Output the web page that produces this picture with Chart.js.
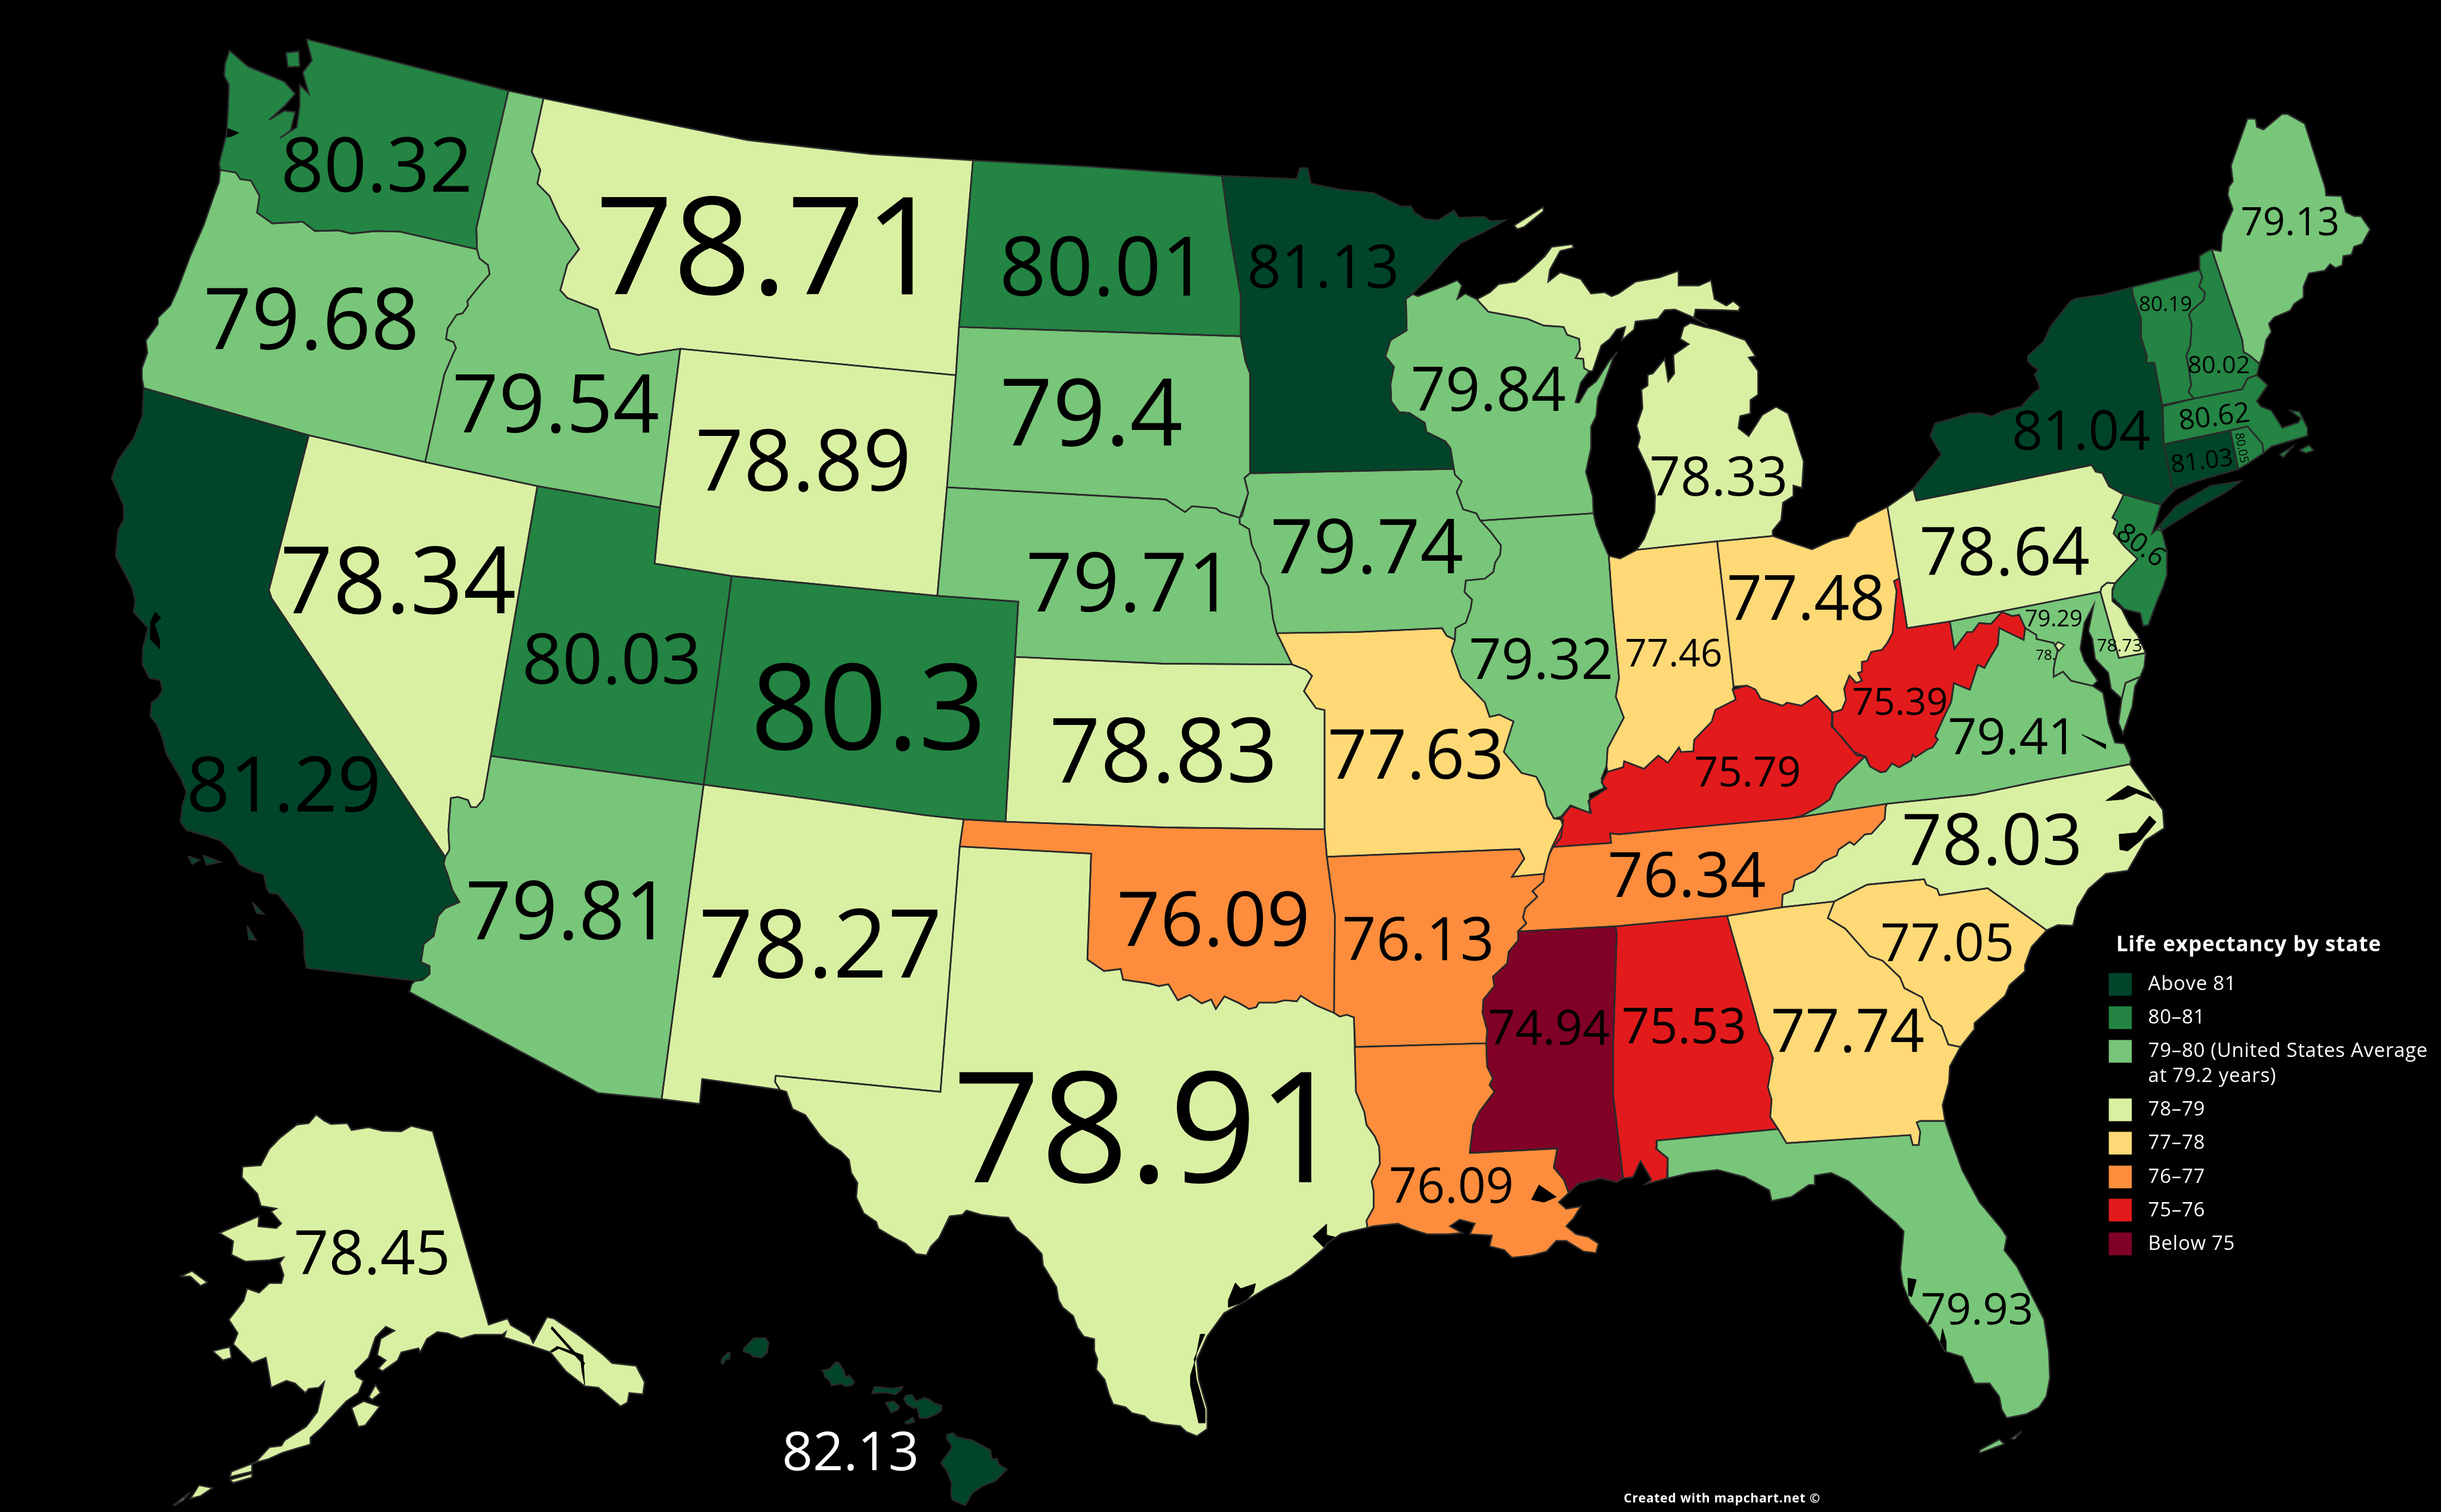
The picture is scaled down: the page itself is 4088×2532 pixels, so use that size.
<!DOCTYPE html>
<html>
<head>
<meta charset="utf-8">
<title>Life expectancy by state</title>
<script src="https://cdn.jsdelivr.net/npm/chart.js@4/dist/chart.umd.min.js"></script>
<style>
  html, body { margin: 0; padding: 0; background: #000; }
  canvas { display: block; }
</style>
</head>
<body>
<canvas id="myChart" width="4088" height="2532"></canvas>
<script>
// Values
const stateCodes = ["WA","OR","CA","NV","ID","MT","WY","UT","AZ","NM","CO","ND","SD","NE","KS","OK","TX","MN","IA","MO","AR","LA","WI","IL","MS","AL","TN","KY","IN","MI","OH","WV","VA","NC","SC","GA","FL","PA","NY","NJ","DE","MD","DC","VT","NH","ME","MA","CT","RI","AK","HI"];
const valueLabels = ["80.32","79.68","81.29","78.34","79.54","78.71","78.89","80.03","79.81","78.27","80.3","80.01","79.4","79.71","78.83","76.09","78.91","81.13","79.74","77.63","76.13","76.09","79.84","79.32","74.94","75.53","76.34","75.79","77.46","78.33","77.48","75.39","79.41","78.03","77.05","77.74","79.93","78.64","81.04","80.6","78.73","79.29","78.","80.19","80.02","79.13","80.62","81.03","80.05","78.45","82.13"];

// Legend bins, top to bottom
const binFloors = [81, 80, 79, 78, 77, 76, 75, 0];
const binColors = ["#004529", "#238443", "#78c679", "#d9f0a3", "#fed976", "#fd8d3c", "#e31a1c", "#800026"];
const legendTitle = "Life expectancy by state";
const legendLabels = [["Above 81"], ["80–81"], ["79–80 (United States Average", "at 79.2 years)"], ["78–79"], ["77–78"], ["76–77"], ["75–76"], ["Below 75"]];
const creditText = "Created with mapchart.net ©";

// State outlines, map units (1568 x 971.2)
const outlineWA = [[[196.8,25.1],[326.6,58.3],[306,146.4],[306.4,160.1],[257,148.8],[241.5,148.4],[225.8,150],[217,148],[202.3,148.4],[194.5,142.5],[174.9,143.5],[165.1,136.6],[166.7,125.9],[161.2,116],[154.4,115.1],[151.4,110.8],[141.6,109.2],[140.7,105.3],[145.6,85.7],[146.5,70],[147.1,54.4],[144,48.6],[144.6,40.7],[147.5,32.5],[159.3,42.7],[182.7,52.5],[189.6,60.3],[182.7,68.1],[173,77],[182.7,71.1],[189.6,72],[186.7,83.8],[179.8,88.7],[190.6,81.8],[192.5,68.1],[192.5,54.4],[198.4,60.3],[194.5,46.6],[200.4,38.8]],
  [[183.7,33.9],[192,33],[192.5,42.7],[185,43]]];
const outlineOR = [[[306.4,160.1],[257,148.8],[241.5,148.4],[225.8,150],[217,148],[202.3,148.4],[194.5,142.5],[174.9,143.5],[165.1,136.6],[166.7,125.9],[161.2,116],[154.4,115.1],[151.4,110.8],[141.6,109.2],[141.3,110.2],[140.7,117],[137.7,124.9],[130.9,144.5],[122,165],[114.3,185.5],[109.4,196.3],[101.5,204.1],[101.5,208],[93.7,218.8],[94.7,226.6],[91.2,236.4],[91.2,243.3],[92.4,249.3],[198.4,279.6],[273.1,296.8],[285.5,240.3],[291.4,226.6],[292.9,223.7],[291.4,219.8],[286.5,217.8],[287.5,211],[293.3,202.2],[297.2,201.2],[300.6,196.3],[300.2,193.4],[308,183.6],[314.5,176.1],[313.5,170.3],[308,166]]];
const outlineCA = [[[92.4,249.3],[91.4,267.3],[85.9,281.4],[75.9,295.5],[71.8,307],[79.5,325.1],[79.5,334],[75.9,340.5],[74.4,357.2],[85,377.8],[86.9,385.5],[85.9,393.2],[95.1,403.4],[91.8,416.3],[91.4,426.6],[96,435.6],[103,436.8],[104.3,443.3],[101.5,448.4],[97.5,451],[96.6,460],[100.6,465],[104.3,474],[107,484.4],[116.2,499.8],[119.9,508.8],[117.1,517.8],[115.9,528],[119.9,533.2],[132.7,537],[141.9,540.1],[149.3,547.3],[153.8,555],[162.1,559.6],[169.4,561.4],[171.3,570.4],[173.1,573.5],[178.6,574.3],[190.5,589.7],[195.1,598.7],[195.5,614.1],[197,621.8],[266.7,630],[271.3,629.5],[275.9,625.7],[275.9,620.5],[270.4,618],[272.2,606.4],[278.6,601.2],[281.4,588.4],[286,583.3],[295.1,579.4],[290.5,571.7],[287.8,562.7],[285,555],[286,550.4],[174.4,384.2],[172.7,379],[198.4,279.6]],
  [[120.8,549.9],[128.1,552.4],[123.6,555]],[[130.5,549.4],[141.5,553.7],[132.7,555.5]],[[162.1,579.4],[169.4,587.1],[164.9,586.4]],[[158.8,594.8],[164.3,603.8],[159.9,603.3]]];
const outlineNV = [[[198.4,279.6],[273.1,296.8],[345.2,312.2],[315.3,485.6],[310.4,513.4],[306.1,518.5],[302.5,518.5],[300.6,513.9],[294.2,511.9],[289.6,512.6],[288,533.2],[288.7,546],[286,550.4],[174.4,384.2],[172.7,379]]];
const outlineID = [[[326.6,58.3],[349.1,63.2],[341.6,97.5],[347.1,109.2],[345.2,118],[353,125.9],[359.9,141.5],[364.4,147.4],[372,160],[364.4,170],[359.9,186.5],[364.4,191.4],[384,199],[392,224],[410,228],[437,224],[424,326],[345.2,312.2],[273.1,296.8],[285.5,240.3],[291.4,226.6],[292.9,223.7],[291.4,219.8],[286.5,217.8],[287.5,211],[293.3,202.2],[297.2,201.2],[300.6,196.3],[300.2,193.4],[308,183.6],[314.5,176.1],[313.5,170.3],[308,166],[306.4,160.1],[306,146.4]]];
const outlineMT = [[[349.1,63.2],[480,90],[560,99],[625,103],[616,210],[614,241],[437,224],[410,228],[392,224],[384,199],[364.4,191.4],[359.9,186.5],[364.4,170],[372,160],[364.4,147.4],[359.9,141.5],[353,125.9],[345.2,118],[347.1,109.2],[341.6,97.5]]];
const outlineWY = [[[437,224],[614,241],[608.3,313],[602.1,382.7],[470,370],[420.5,362],[424,326]]];
const outlineUT = [[[345.2,312.2],[424,326],[420.5,362],[470,370],[452,504],[315.3,485.6]]];
const outlineAZ = [[[315.3,485.6],[452,504],[425,706],[384,702],[263,637.2],[264.5,632],[266.7,630],[271.3,629.5],[275.9,625.7],[275.9,620.5],[270.4,618],[272.2,606.4],[278.6,601.2],[281.4,588.4],[286,583.3],[295.1,579.4],[290.5,571.7],[287.8,562.7],[285,555],[286,550.4],[288.7,546],[288,533.2],[289.6,512.6],[294.2,511.9],[300.6,513.9],[302.5,518.5],[306.1,518.5],[310.4,513.4]]];
const outlineNM = [[[452,504],[520,513],[594.5,523.7],[619,526.3],[616.5,543.7],[604.1,701.3],[498.3,691],[497.8,694.8],[501,700],[451,693],[449.5,709],[425,706]]];
const outlineCO = [[[470,370],[602.1,382.7],[654.1,386.4],[652,421.9],[645.9,527.8],[619,526.3],[594.5,523.7],[520,513],[452,504]]];
const outlineND = [[[625,103],[700,107],[785,113],[790,150],[797,190],[797,216],[616,210]]];
const outlineSD = [[[616,210],[797,216],[800,232],[803,240],[803,304],[799.4,306.9],[801.8,316.7],[797.9,331.4],[796.3,332.6],[784.1,328.9],[781,326.5],[765.7,325.2],[761.2,328.9],[748.9,320.8],[608.3,313],[614,241]]];
const outlineNE = [[[608.3,313],[748.9,320.8],[761.2,328.9],[765.7,325.2],[781,326.5],[784.1,328.9],[796.3,332.6],[796.3,336.3],[802.4,339.9],[804,349.7],[809.5,361.9],[810.1,368],[814.7,376.6],[816.2,385.2],[817.7,397.4],[820.2,407.2],[821.7,409.6],[830,426.8],[747.4,426.3],[652,421.9],[654.1,386.4],[602.1,382.7]]];
const outlineKS = [[[652,421.9],[747.4,426.3],[830,426.8],[839.1,430.4],[842.8,434.1],[837.6,443.9],[845.3,454.9],[850.8,456.1],[850.8,532.7],[747.4,531.5],[645.9,527.8]]];
const outlineOK = [[[619,526.3],[645.9,527.8],[747.4,531.5],[850.8,532.7],[852.3,550.3],[857.5,588.2],[856.9,650.6],[845.3,645.7],[835.5,639.6],[833,643.2],[825.4,642.5],[819.3,644],[808.6,644],[807,646.9],[802.4,648.1],[796.3,644.5],[786.5,640],[781,648.1],[778,642],[771.9,644.5],[764.2,639.1],[756.6,642.5],[750.5,632.2],[744.3,633.4],[738.2,631.7],[721.4,629.3],[719.9,622.4],[709.2,623.7],[698.5,616.3],[700.9,548.3],[616.5,543.7]]];
const outlineTX = [[[616.5,543.7],[700.9,548.3],[698.5,616.3],[709.2,623.7],[719.9,622.4],[721.4,629.3],[738.2,631.7],[744.3,633.4],[750.5,632.2],[756.6,642.5],[764.2,639.1],[771.9,644.5],[778,642],[781,648.1],[786.5,640],[796.3,644.5],[802.4,648.1],[807,646.9],[808.6,644],[819.3,644],[825.4,642.5],[833,643.2],[835.5,639.6],[845.3,645.7],[856.9,650.6],[860.6,653],[865.1,651.8],[869.7,653.5],[870.2,672],[871,701.3],[876.4,714.3],[877.8,722.6],[883.2,730],[885.9,736.6],[886.4,747.7],[881,758.9],[882.4,765.4],[882.4,775.6],[877.8,784],[878.3,788.6],[861.6,792.4],[852.2,798.9],[850.9,801.6],[840.1,811],[829.3,819.3],[813.2,827.7],[801.1,835.1],[786.3,843.5],[775.5,858.4],[768.8,873.2],[770.1,886.2],[775.5,904.8],[775.5,917.8],[768.8,922.5],[762,919.7],[758,916],[748.6,915],[739.2,913.2],[735.1,909.5],[727.1,907.6],[723,903.9],[715,902],[712.3,895.5],[709.6,886.2],[704.2,879.7],[705,873.2],[702.9,867.6],[702.9,860.2],[696.1,858.4],[692.1,852.8],[689.4,845.3],[682.7,839.8],[680,835.1],[678.6,826.7],[674.6,820.2],[670,812.8],[669.2,805.4],[659.8,795.1],[653.1,790.5],[647.7,782.1],[642.3,781.8],[630.2,780.3],[620.8,777.5],[618.1,780.3],[610,781.2],[603.3,795.1],[597.9,800.7],[595.2,806.3],[588.5,805.4],[581.8,798.9],[574.2,795.1],[564.3,789.2],[562.9,784.9],[554.8,779.3],[550,769.1],[550.8,759.8],[546.8,753.3],[545.4,745],[540,739.4],[532,734.7],[526.6,729.1],[521.2,721.7],[517.2,716.1],[509.1,712.4],[505.1,701.3],[501,700],[497.8,694.8],[498.3,691],[604.1,701.3]]];
const outlineMN = [[[785,113],[833,115],[835,108],[840,108],[842,118],[862,122],[882.2,123.9],[899.8,132.6],[906.4,132.5],[908.6,136.4],[915.2,140.7],[924,141.5],[933.9,135.2],[937.2,139.8],[953.8,139.3],[957.1,142],[967,141.5],[952.7,149.2],[938.4,156],[927.3,167.2],[918.5,177.5],[908.2,187.7],[903.1,192],[903.6,212.2],[893.2,218.5],[889.9,228.8],[895.4,235.6],[893.2,246.7],[893.7,257.9],[898.7,264.7],[905.3,265.2],[915.2,271.6],[916.3,277.5],[928.4,283.5],[931.7,287.8],[933.9,301.2],[803,304],[803,240],[800,232],[797,216],[797,190],[790,150]]];
const outlineIA = [[[803,304],[933.9,301.2],[934.6,305],[939,309.2],[935.7,316],[939.9,327.2],[948.3,329.7],[950.9,334.4],[957,340.9],[964.1,350.3],[963.7,356.2],[960.4,361.4],[959.3,367.4],[953.8,371.7],[941.6,372.9],[940.7,380.3],[945.6,385.2],[944.6,391.3],[941.6,399.9],[934.9,403.5],[934.6,410.9],[929.3,408.4],[926.3,403.5],[871.2,406],[820.2,406.7],[817.7,397.4],[816.2,385.2],[814.7,376.6],[810.1,368],[809.5,361.9],[804,349.7],[802.4,339.9],[796.3,336.3],[796.3,332.6],[801.8,316.7],[799.4,306.9]]];
const outlineMO = [[[820.2,406.7],[871.2,406],[926.3,403.5],[929.3,408.4],[934.6,410.9],[932.4,418.2],[938.5,435.3],[953.8,451.2],[956.9,460.5],[963,459],[972.2,463.4],[966,483],[977.4,496.5],[986.8,498.9],[992,508.7],[993.6,517.3],[998.2,525.8],[1004.3,526.5],[1002.7,538],[997.6,544.2],[995.1,549],[992,561.3],[971.2,563.2],[979.2,551.5],[976.1,545.4],[852.3,550.3],[850.8,532.7],[850.8,456.1],[845.3,454.9],[837.6,443.9],[842.8,434.1],[839.1,430.4],[830,426.8],[821.7,409.6]]];
const outlineAR = [[[852.3,550.3],[976.1,545.4],[979.2,551.5],[971.2,563.2],[992,561.3],[991.4,566.2],[984.4,572.3],[987.5,576],[979.8,583.3],[978.3,589.4],[980.4,593.1],[975.2,598],[975.2,604.1],[969.1,611.4],[968.2,618.8],[959,627.3],[959.9,633.4],[952.9,642],[952.3,650.6],[955.3,661.6],[954.7,670.1],[870.6,672.6],[869.7,653.5],[865.1,651.8],[860.6,653],[856.9,650.6],[857.5,588.2]]];
const outlineLA = [[[870.2,672.4],[954.7,670.1],[955.2,685],[959,692.7],[956.8,697],[960,701.2],[950.4,714],[946.3,722.6],[944.1,740.6],[1000.4,737.7],[998.1,750],[1004.5,757.7],[1007.7,766.3],[1001.3,772.2],[1006.1,776.5],[1015.6,774.8],[1010.8,782.5],[1006.1,787.6],[1012.4,792.8],[1020.4,794.5],[1026.8,798.8],[1025.2,804.8],[1017.2,803.9],[1006.1,797],[999.7,797],[993.4,803.9],[983.8,806.5],[971.1,807.8],[966.3,803],[956.8,800.5],[958.4,793.6],[944.1,792.8],[947.3,786],[937.7,783.4],[931.4,787.6],[939.3,792],[929.8,792.8],[917,792.8],[905.9,789.4],[898,786],[882,787.6],[878.3,788.6],[877.8,784],[882.4,775.6],[882.4,765.4],[881,758.9],[886.4,747.7],[885.9,736.6],[883.2,730],[877.8,722.6],[876.4,714.3],[871,701.3]]];
const outlineWI = [[[903.1,192],[907.5,188.9],[910.8,190.3],[928.4,183.4],[936.1,180],[939,183.4],[936.1,192],[941.2,188.6],[948.7,192.3],[956,200.2],[981.3,204.8],[991.6,209.1],[1004.4,210],[1006.6,215],[1014.3,217.7],[1015,224.5],[1012.1,230],[1017,230.5],[1017.6,236.5],[1020.9,238.5],[1015.4,245.9],[1012.1,258.4],[1014.3,258.7],[1019.8,249.3],[1025.3,245],[1034.1,231.3],[1039,225.9],[1036.3,230],[1030.2,246.7],[1026.4,255.3],[1025.3,267.3],[1022,274.1],[1022,287.8],[1018.7,303.2],[1023.1,318.6],[1023.6,329.7],[950.9,334.4],[948.3,329.7],[939.9,327.2],[935.7,316],[939,309.2],[934.6,305],[933.9,301.2],[931.7,287.8],[928.4,283.5],[916.3,277.5],[915.2,271.6],[905.3,265.2],[898.7,264.7],[893.7,257.9],[893.2,246.7],[895.4,235.6],[889.9,228.8],[893.2,218.5],[903.6,212.2]]];
const outlineIL = [[[950.9,334.4],[1023.6,329.7],[1025.3,337.4],[1028.6,346],[1033.4,357],[1035.8,390],[1040,435.3],[1037.9,447.5],[1043.1,461],[1032.7,480.6],[1032,491.8],[1028.7,500.1],[1030.3,506.3],[1021.1,510],[1021.1,522.2],[1008.9,517.3],[1002.7,524.6],[998.2,525.8],[993.6,517.3],[992,508.7],[986.8,498.9],[977.4,496.5],[966,483],[972.2,463.4],[963,459],[956.9,460.5],[953.8,451.2],[938.5,435.3],[932.4,418.2],[934.6,410.9],[934.9,403.5],[941.6,399.9],[944.6,391.3],[945.6,385.2],[940.7,380.3],[941.6,372.9],[953.8,371.7],[959.3,367.4],[960.4,361.4],[963.7,356.2],[964.1,350.3],[957,340.9]]];
const outlineMS = [[[975.2,598.3],[1037.9,595],[1038.5,600.4],[1036.3,671.3],[1036.3,703.8],[1042.6,756.9],[1038.5,759.4],[1028.3,756.9],[1014,760.3],[1007.7,766.3],[1004.5,757.7],[998.1,750],[1000.4,737.7],[944.1,740.6],[946.3,722.6],[950.4,714],[960,701.2],[956.8,697],[959,692.7],[955.2,685],[954.7,670.1],[955.3,661.6],[952.3,650.6],[952.9,642],[959.9,633.4],[959,627.3],[968.2,618.8],[969.1,611.4],[975.2,604.1]]];
const outlineAL = [[[1037.9,595],[1109.4,588.3],[1126.3,647.4],[1130.5,663],[1136.1,671.9],[1138.9,679.7],[1135.6,698.3],[1138,706.4],[1137.1,717.5],[1142.2,725.2],[1064.3,732.6],[1064,738],[1071.3,744],[1070.6,756.9],[1057,760.6],[1060.8,757.7],[1053.8,745.7],[1049,756],[1042.6,756.9],[1036.3,703.8],[1036.3,671.3],[1038.5,600.4]]];
const outlineTN = [[[996.9,544.1],[1034.9,541.4],[1034.3,535.3],[1039.9,535.9],[1079.9,532],[1150.2,525.7],[1212.1,516.3],[1211.2,518.3],[1210.7,526.1],[1202.2,535.5],[1198,535.9],[1191,542.7],[1188.2,540.8],[1181.1,545.7],[1179.7,549.6],[1171.3,553.5],[1165.7,559.4],[1153,565.2],[1151.6,572],[1145.1,574.6],[1144.6,582.8],[1109.4,588.3],[1037.9,595],[975.2,598.3],[980.4,593.1],[978.3,589.4],[979.8,583.3],[987.5,576],[984.4,572.3],[991.4,566.2],[992,561.3],[995.1,549]]];
const outlineKY = [[[996.9,544.1],[1003.9,530],[1002.5,526.1],[1009,517.9],[1022.2,522.2],[1020.2,514.4],[1032,506.5],[1028.7,502.6],[1032.6,495.8],[1042.7,492.8],[1043.3,489],[1056,493.8],[1065.2,485.4],[1071.4,489.9],[1078.5,480.1],[1079.9,483],[1087.7,482.6],[1088.3,475.2],[1099.6,463.5],[1101.8,456],[1115,449.4],[1113,442.9],[1122.1,440.4],[1127.7,442.9],[1131,448.8],[1145.1,453.3],[1147.9,451.3],[1157.2,453.3],[1167,446.8],[1176.9,457.6],[1176.4,466.4],[1183.9,474.2],[1191,483],[1198,486],[1186.8,496.7],[1179.7,503.6],[1175.5,513.4],[1168.5,518.3],[1157.2,524.1],[1150.2,525.7],[1079.9,532],[1039.9,535.9],[1034.3,535.3],[1034.9,541.4]]];
const outlineIN = [[[1033.4,357],[1040.7,358.8],[1051.3,353.2],[1103,347.7],[1109.4,402.8],[1113.6,441],[1113,442.9],[1115,449.4],[1101.8,456],[1099.6,463.5],[1088.3,475.2],[1087.7,482.6],[1079.9,483],[1078.5,480.1],[1071.4,489.9],[1065.2,485.4],[1056,493.8],[1043.3,489],[1042.7,492.8],[1032.6,495.8],[1032,491.8],[1032.7,480.6],[1043.1,461],[1037.9,447.5],[1040,435.3],[1035.8,390]]];
const outlineMI = [[[1051.3,353.2],[1103,347.7],[1138.7,344.3],[1138.7,340.8],[1144.2,334],[1145.3,322.9],[1152,318.6],[1152,311.8],[1157.5,313.5],[1158.6,296.4],[1155.2,286.1],[1152,275.8],[1148.6,265.6],[1140.9,261.3],[1132.1,266.4],[1123.3,280.1],[1116.7,275],[1117.8,267.3],[1124.4,265.6],[1124.4,257],[1129.3,253.6],[1129.3,238.2],[1123.3,229.6],[1127.7,228.8],[1121.1,218.5],[1102.4,211.7],[1094.7,210],[1085.9,207.4],[1081.5,210],[1079.3,217.7],[1084.8,221.1],[1074.9,228],[1075.5,239.9],[1071.6,245],[1069.4,230.5],[1061.7,239.9],[1058.4,240.8],[1058.4,247.6],[1054.4,250.2],[1055.1,262.2],[1051.3,273.3],[1053.5,281],[1051.8,287],[1059.5,303.2],[1063.2,318.6],[1062.8,328.9],[1056.2,346]],
  [[948.7,192.3],[957.1,187.7],[962.6,182.6],[973.6,180.9],[982.4,174],[992.3,164.6],[996.7,158.6],[1009.9,156.9],[1011,159.1],[1002.2,161.2],[995.6,173.2],[994.5,180.9],[1002.2,174.9],[1015.4,179.2],[1022,188.6],[1030.8,187.7],[1035.2,190.3],[1039.6,188.6],[1050.6,180.9],[1066,178.3],[1078.2,174],[1078.2,183.4],[1091.4,183.4],[1099.1,180],[1101.3,192],[1109,196.3],[1113.4,193.4],[1117.8,197.1],[1116.7,199.7],[1106.8,199.2],[1089.2,198.8],[1088.1,204],[1096.9,208.8],[1085.9,203.1],[1076,198.8],[1069.4,199.2],[1065,204.8],[1050.6,206.5],[1049.6,211.7],[1041.8,218.5],[1044,210],[1038.5,211.7],[1034.1,217.7],[1028.6,222],[1023.1,238.2],[1020.9,238.5],[1017.6,236.5],[1017,230.5],[1012.1,230],[1015,224.5],[1014.3,217.7],[1006.6,215],[1004.4,210],[991.6,209.1],[981.3,204.8],[956,200.2]],
  [[972.5,144.9],[991.2,133],[991.6,135.5],[979.1,145.8],[974.7,147.2]]];
const outlineOH = [[[1103,347.7],[1138.7,344.3],[1150.8,348.5],[1164,352.8],[1177.3,346.8],[1187.2,344.3],[1192.7,335.7],[1212.4,325.5],[1220,371.4],[1216.6,373.3],[1218.3,379.7],[1215.7,406.6],[1212.3,413],[1208.9,417.4],[1202,418.7],[1199.5,424.5],[1196,425.1],[1196,431.5],[1193.5,432.1],[1196,437.3],[1192.3,438.6],[1188,434],[1184.6,442.4],[1185.8,449.4],[1183.2,455.8],[1177.2,457.7],[1167,446.8],[1157.2,453.3],[1147.9,451.3],[1145.1,453.3],[1131,448.8],[1127.7,442.9],[1122.1,440.4],[1113.6,441],[1109.4,402.8]]];
const outlineWV = [[[1220,371.4],[1225.1,403.4],[1252.5,399.2],[1255.4,416.8],[1263.6,405.9],[1267.1,405.9],[1271.3,400.2],[1279,400.8],[1285.9,393.1],[1292.7,395.7],[1297,395],[1300.9,403.4],[1299.9,411],[1284.2,403.4],[1283.3,414.3],[1278.2,422.6],[1274.7,429],[1270.5,427],[1265.3,443],[1255.1,438.8],[1253.4,450.7],[1248.2,461.6],[1243.1,473],[1244.8,475],[1241.4,480.1],[1238,481.4],[1230.3,486.5],[1228.6,484.6],[1227.7,488.4],[1220,492.9],[1215.4,490.4],[1211.4,495.5],[1208,496.1],[1201.2,492.3],[1198.6,485.9],[1192.6,485.2],[1182.4,473.1],[1177.2,466.7],[1177.2,457.7],[1183.2,455.8],[1185.8,449.4],[1184.6,442.4],[1188,434],[1192.3,438.6],[1196,437.3],[1193.5,432.1],[1196,431.5],[1196,425.1],[1199.5,424.5],[1202,418.7],[1208.9,417.4],[1212.3,413],[1215.7,406.6],[1218.3,379.7],[1216.6,373.3]]];
const outlineVA = [[[1198,486],[1201.2,492.3],[1208,496.1],[1211.4,495.5],[1215.4,490.4],[1220,492.9],[1227.7,488.4],[1228.6,484.6],[1230.3,486.5],[1238,481.4],[1241.4,480.1],[1244.8,475],[1243.1,473],[1248.2,461.6],[1253.4,450.7],[1255.1,438.8],[1265.3,443],[1270.5,427],[1274.7,429],[1278.2,422.6],[1283.3,414.3],[1284.2,403.4],[1299.9,411],[1300.9,403.4],[1308.1,407.9],[1308.1,410.4],[1319.2,413],[1321.8,418],[1320.1,424.5],[1319.2,429.6],[1319.2,434.7],[1325.2,431.5],[1330.4,437.3],[1344.1,440.5],[1350.9,445],[1352.6,453.9],[1354.3,464.1],[1358.6,477],[1364.6,477.6],[1368.9,487.2],[1368.2,490.9],[1310.5,501.6],[1268.3,510.4],[1212.1,516.3],[1150.2,525.7],[1157.2,524.1],[1168.5,518.3],[1175.5,513.4],[1179.7,503.6],[1186.8,496.7]],
  [[1365.4,438.6],[1374.8,434.7],[1371.4,441],[1369.7,453.9],[1363.7,471.2],[1360.8,464.1],[1362.9,448.8]]];
const outlineNC = [[[1212.1,516.3],[1268.3,510.4],[1310.5,501.6],[1368.2,490.9],[1380.9,508.5],[1389.3,520.2],[1390.2,532],[1378,539.8],[1366.8,559.3],[1352.7,561.3],[1341.5,571.1],[1334.4,582.8],[1331.6,594.6],[1321.8,594.2],[1314.7,597.5],[1276.8,570.5],[1245.8,575],[1244.4,571.1],[1237.4,568.2],[1236,564.8],[1199.4,568.2],[1178.3,579],[1144.6,582.8],[1145.1,574.6],[1151.6,572],[1153,565.2],[1165.7,559.4],[1171.3,553.5],[1179.7,549.6],[1181.1,545.7],[1188.2,540.8],[1191,542.7],[1198,535.9],[1202.2,535.5],[1210.7,526.1],[1211.2,518.3]]];
const outlineSC = [[[1178.3,579],[1199.4,568.2],[1236,564.8],[1237.4,568.2],[1244.4,571.1],[1245.8,575],[1276.8,570.5],[1314.7,597.5],[1304.9,608.3],[1300.7,620],[1300.7,624],[1290.8,632.8],[1288,639.6],[1268.3,657.2],[1268.3,661.1],[1259.3,672.5],[1251.5,670.9],[1247.2,659.2],[1240.2,654.3],[1234.6,640.6],[1223.3,634.7],[1220.5,627.8],[1209.3,617.1],[1200.8,614.1],[1185.3,596.5],[1174.1,589.7]]];
const outlineGA = [[[1109.4,588.3],[1144.6,582.8],[1178.3,579],[1174.1,589.7],[1185.3,596.5],[1200.8,614.1],[1209.3,617.1],[1220.5,627.8],[1223.3,634.7],[1234.6,640.6],[1240.2,654.3],[1247.2,659.2],[1251.5,670.9],[1259.3,672.5],[1252.5,685],[1251.9,695.3],[1247.8,709.8],[1249.4,720],[1233.5,720],[1231.2,721],[1233.5,726.9],[1232.5,735.5],[1228.7,735.5],[1227.1,729.1],[1147.6,734.3],[1142.2,725.2],[1137.1,717.5],[1138,706.4],[1135.6,698.3],[1138.9,679.7],[1136.1,671.9],[1130.5,663],[1126.3,647.4]]];
const outlineFL = [[[1064.3,732.6],[1142.2,725.2],[1147.6,734.3],[1227.1,729.1],[1228.7,735.5],[1232.5,735.5],[1233.5,726.9],[1231.2,721],[1233.5,720],[1249.4,720],[1252.5,729.5],[1260.5,751.7],[1271.6,772.2],[1285.9,789.4],[1289.1,794.5],[1287.5,803],[1295.5,813.3],[1313,847.5],[1316.1,868],[1316.8,885],[1314.5,897],[1309.8,904],[1301.8,908.3],[1289.1,910.8],[1285.9,905.7],[1284.3,897.2],[1278,888.6],[1268.4,888.6],[1260.5,871.5],[1249.4,868.1],[1241.4,854.4],[1227.1,837.3],[1222.3,825.3],[1220.7,815],[1222.9,791],[1217.5,785.1],[1203.2,773.1],[1195.3,765.4],[1187.3,758.6],[1176.2,753.4],[1165.7,755.1],[1165.7,761.1],[1161.9,761.1],[1150.8,768.8],[1138,771.4],[1136.5,764.5],[1120.6,756],[1103.1,751.4],[1085.6,753.4],[1071.3,756.9],[1071.3,744],[1064,738]],
  [[1284.3,924.5],[1287.5,927.6],[1271.6,933.4],[1271.6,931.4]],[[1298.6,919.4],[1294,924.5],[1292,924]]];
const outlinePA = [[[1212.4,325.5],[1229,314],[1231,321.5],[1265.8,314.7],[1343.6,298.7],[1346.2,303],[1350.5,303.9],[1354.8,312.4],[1364.2,317.6],[1360.3,326],[1356.9,332.4],[1360.3,335],[1357.7,342.6],[1364.6,351],[1373.1,359],[1368,364.4],[1358.6,374.6],[1353.5,374.3],[1350,377.2],[1349.2,380.1],[1252.5,399.2],[1225.1,403.4],[1220,371.4]]];
const outlineNY = [[[1229,314],[1247,292],[1240,280],[1243,272],[1265.8,265.4],[1272.6,265.4],[1279.5,267.6],[1286.3,264],[1298.3,261.1],[1306.9,251.7],[1310.3,250],[1309.4,245.7],[1306.9,240.6],[1309.4,237.2],[1306,235.4],[1302.6,232],[1302.6,228.6],[1312.9,219.2],[1317.1,209.8],[1330,193.5],[1333.4,191.8],[1351.4,189.2],[1369.3,184.5],[1370.2,190.1],[1375.3,204.6],[1375.3,216.6],[1379.1,228.6],[1378.7,232.9],[1383.9,232.9],[1389,260.3],[1389.9,285.9],[1393.3,302.2],[1395,312.4],[1397.5,314.1],[1391.6,320.1],[1388.1,324.1],[1364.2,317.6],[1354.8,312.4],[1350.5,303.9],[1346.2,303],[1343.6,298.7],[1265.8,314.7],[1231,321.5]],
  [[1385,340],[1398,325],[1420,312],[1439.5,309],[1430,316],[1412,326],[1388,341]]];
const outlineNJ = [[[1358.6,374.6],[1368,364.4],[1373.1,359],[1364.6,351],[1357.7,342.6],[1360.3,335],[1356.9,332.4],[1360.3,326],[1364.2,317.6],[1388.1,324.1],[1385,335],[1382.5,342.6],[1387.7,338.2],[1389.4,343.9],[1391.9,354.1],[1391.9,369.5],[1389.4,377.2],[1385.1,387.4],[1380,401.5],[1376.6,402],[1374.8,393.8],[1364.6,391.2],[1356.9,383.6],[1356.9,378.4]]];
const outlineDE = [[[1349.2,380.1],[1350,377.2],[1353.5,374.3],[1358.6,374.6],[1356.9,379.7],[1356.9,386.1],[1362.9,391.2],[1368,401.5],[1373.1,408],[1378.3,419.4],[1361.1,422.6]]];
const outlineMD = [[[1252.5,399.2],[1349.2,380.1],[1361.1,422.6],[1378.3,419.4],[1377.4,428.3],[1374.8,434.7],[1365.4,438.6],[1362.9,448.8],[1356,442.4],[1354.3,432.2],[1345.8,423.2],[1344,410.4],[1341.5,405.3],[1344.9,388.7],[1338.9,400.2],[1336.3,416.8],[1338.9,424.5],[1347.5,437.3],[1344.1,440.5],[1330.4,437.3],[1325.2,431.5],[1319.2,434.7],[1319.2,429.6],[1320.1,424.5],[1321.8,418],[1319.2,413],[1308.1,410.4],[1308.1,407.9],[1300.9,403.4],[1297,395],[1292.7,395.7],[1285.9,393.1],[1279,400.8],[1271.3,400.2],[1267.1,405.9],[1263.6,405.9],[1255.4,416.8]]];
const outlineDC = [[[1321.8,412.3],[1326,414.3],[1322.6,418.1],[1320.1,414.9]]];
const outlineVT = [[[1369.3,184.5],[1401,176.4],[1412.9,173.5],[1414.7,178.1],[1412.6,184.1],[1416.4,187.9],[1415.5,192.7],[1407.8,199.5],[1406.1,202.1],[1407.8,208],[1407,221.8],[1404.4,228.6],[1406.1,237.1],[1407.5,247.4],[1405.8,251.7],[1409.2,256],[1389,260.3],[1383.9,232.9],[1378.7,232.9],[1379.1,228.6],[1375.3,216.6],[1375.3,204.6],[1370.2,190.1]]];
const outlineNH = [[[1412.9,173.5],[1412.9,164.4],[1416.4,162.2],[1420.7,160.2],[1440.3,218.3],[1441.2,226],[1445.5,228.6],[1451.4,233.7],[1449.7,240.9],[1443.7,243.1],[1440.3,250],[1409.2,256],[1405.8,251.7],[1407.5,247.4],[1406.1,237.1],[1404.4,228.6],[1407,221.8],[1407.8,208],[1406.1,202.1],[1407.8,199.5],[1415.5,192.7],[1416.4,187.9],[1412.6,184.1],[1414.7,178.1]]];
const outlineME = [[[1420.7,160.2],[1426.6,161.4],[1427.5,149.9],[1434.3,134.5],[1431,125],[1431.8,120],[1434.3,116.5],[1433.1,106.3],[1443.7,76.3],[1448.9,76.3],[1449.7,81.5],[1454,83.2],[1466,73.2],[1469.4,73.2],[1480.5,79.4],[1493.7,120.8],[1494.2,125.6],[1504,125.9],[1507,136.2],[1512.2,138.8],[1516.5,138.8],[1522.5,147.3],[1517.3,156.7],[1512.2,158.4],[1510.5,163.6],[1505.3,164.4],[1504.5,170.4],[1500.2,172.1],[1496.8,169.6],[1493.4,173.8],[1483.1,175.6],[1479.7,184.1],[1479.7,191],[1473.7,195.2],[1471.1,199.5],[1460.9,203.8],[1457.4,208],[1459.1,213.2],[1455.7,218.3],[1454,226.9],[1451.4,233.7],[1445.5,228.6],[1441.2,226],[1440.3,218.3]]];
const outlineMA = [[[1389.3,261],[1409.2,256],[1440.3,250],[1443.7,243.1],[1449.7,240.9],[1456.6,247.4],[1449.7,257.7],[1452.3,261.1],[1459.1,263.7],[1466,274.8],[1476.2,271.4],[1478,268.8],[1471.1,263.7],[1477.1,264.5],[1482.2,274.8],[1482.2,279.9],[1459.1,286.8],[1454,291],[1453.2,285],[1443.8,273.9],[1432.6,276.5],[1389.9,285.4]],
  [[1464.3,291.9],[1472.8,286.8],[1466.8,293.6]],[[1477.1,289.3],[1483.1,285.9],[1486.2,289.3],[1481.4,291]]];
const outlineCT = [[[1389.9,285.4],[1432.6,276.5],[1437.8,301.3],[1411.2,309],[1397.5,314.1],[1395,312.4],[1393.3,302.2]]];
const outlineRI = [[[1432.6,276.5],[1443.8,273.9],[1453.2,285],[1454,291],[1443.7,297.9],[1437.8,301.3]]];
const outlineAK = [[[203.1,715.9],[208.2,719.8],[212.6,722],[223.2,721.5],[225.8,725.9],[236.8,724.1],[245.6,726.4],[257.7,726.7],[264.3,723.2],[278,726.7],[313.9,850.9],[326,846.9],[328.2,851.2],[340.3,858.2],[342.5,862.5],[351.3,846],[355.7,846.9],[371.2,857.3],[387.7,870.4],[393.2,875.6],[408.6,877.3],[414.1,887.8],[413,895.6],[404.2,894.7],[403.1,900.8],[398.7,903.4],[384.4,891.3],[375.6,890.4],[363.4,880.8],[353.5,868.6],[340.3,864.3],[323.8,859],[324.9,855.6],[322.7,857.3],[313.9,857.3],[305.1,857.3],[296.3,859.9],[287.5,856.4],[280.9,855.6],[274.3,859.9],[269.9,868.6],[268.8,866],[257.8,868.6],[255.5,873.8],[245.6,880.8],[243,879],[247.8,873.8],[242.3,870.4],[244.5,859.9],[253.3,854.7],[247.8,852.1],[241.2,859],[236.8,872.1],[228,880.8],[229.1,884.3],[233.5,886.9],[230.2,894.7],[222.5,900],[213.7,909.5],[205.7,918],[199.4,923.5],[199.4,927.8],[181.8,933],[171.9,937.4],[162,940],[161.9,945.2],[147.6,948.7],[148.7,945.2],[164.2,939.2],[173,929.6],[180.7,928.6],[182.9,925.1],[196.7,916.3],[203.8,906.9],[208.2,887.8],[204.9,891.3],[198.3,892.1],[196.1,894.7],[189.5,888.6],[184,886.9],[174.1,891.3],[173,884.3],[170.8,872.1],[162,875.6],[149.8,863.4],[152.7,856.4],[147,847.7],[156.5,835.5],[158.7,827.7],[166.4,830.3],[173,824.2],[180.7,824.2],[182.2,819],[179.6,811.2],[182.2,807.7],[173,809.4],[157.6,810.3],[148.7,805.9],[149.8,797.2],[141,792],[166.4,781.2],[165.9,787.7],[177.4,788.9],[180.7,785.9],[174.1,778.1],[177.4,776.3],[167.5,774.6],[165.3,766.8],[155.4,756.3],[155.8,749.4],[167.5,748.5],[173,738],[179.6,731.1],[190.6,722.4],[198.3,721.5]],
  [[225.8,904.3],[233.5,900],[243.9,903.5],[234.6,915.6],[230.2,916.5]],[[236.8,897.4],[241.2,889.5],[244.5,894.7],[239,899.1]],[[136.6,867.8],[147.6,865.1],[148.7,872.1],[143.2,873.8]],[[115.7,819.9],[123.4,816.4],[133.3,823.7],[128.9,826],[122.3,819.9]],[[147.6,950.5],[161.9,946.5],[161.9,949],[149.8,952.5]],[[127.8,954],[136.6,955.7],[128.9,960.9],[122.3,962.6]],[[111.3,967],[122.3,958.3],[117.9,963.5],[112.4,967]]];
const outlineHI = [[[477.7,866.3],[484.3,859.5],[491.6,859.5],[493.6,862.4],[492.7,868.8],[489.2,872],[483.6,871.4],[482.1,869.5],[477.7,868.2]],
  [[463.8,872.7],[467.7,868.8],[468.9,868.8],[468.6,872.7],[466,873.3],[464.2,876.1],[463.3,875.2]],
  [[527.6,880.3],[532.8,879.4],[537.2,874.8],[539.1,875.9],[542.3,881],[543,884.8],[545.5,883.5],[548.9,888],[546.7,889.9],[543,890.2],[540.8,888.7],[534.2,889.9],[532.8,886.7],[529.8,884.2],[529.1,881]],
  [[561.7,890.8],[573.1,891.9],[579.7,890.8],[579,892.5],[575.3,895.7],[568.7,894.4],[560.3,895]],
  [[568.7,901],[573.9,900.2],[577.5,903.4],[576.8,905.5],[572.4,907.2],[570.9,904]],
  [[581.9,896.3],[585.6,896],[588.5,900.2],[593.7,897.9],[596.6,898.9],[600.3,901.4],[604.7,902.7],[604.7,905.9],[601.7,908.1],[595.1,911],[590.7,910.6],[589.3,904],[587.1,904.6],[582.7,902.1],[580.8,898.9]],
  [[581.2,913.6],[586.3,910.6],[587.4,913.2],[582.7,914.5]],
  [[608.3,921.3],[612,920.4],[615,923.2],[624.5,925.1],[636.2,931.5],[637,937.3],[640.6,937],[641.4,940.5],[646.8,943.9],[639.2,951.3],[631.8,954.1],[624.5,959],[620.1,966.9],[612,963.5],[611,960.3],[611.3,952.6],[608.1,944.3],[604.4,939.8],[611.3,930.2],[611.3,928.3],[608.3,924.5]]];
const stateOutlines = [outlineWA,outlineOR,outlineCA,outlineNV,outlineID,outlineMT,outlineWY,outlineUT,outlineAZ,outlineNM,outlineCO,outlineND,outlineSD,outlineNE,outlineKS,outlineOK,outlineTX,outlineMN,outlineIA,outlineMO,outlineAR,outlineLA,outlineWI,outlineIL,outlineMS,outlineAL,outlineTN,outlineKY,outlineIN,outlineMI,outlineOH,outlineWV,outlineVA,outlineNC,outlineSC,outlineGA,outlineFL,outlinePA,outlineNY,outlineNJ,outlineDE,outlineMD,outlineDC,outlineVT,outlineNH,outlineME,outlineMA,outlineCT,outlineRI,outlineAK,outlineHI];

// Bays and lakes cut back out of the states
const waterRings = [
  [[144.6,81.8],[153.4,85.3],[148.5,87.7],[145.6,88]],
  [[96.6,399.6],[99.7,393.2],[103.4,397],[99.3,400.9],[102.5,411.1],[102.5,416.8],[96.6,410.6]],
  [[988.6,761.1],[999.7,768.8],[991.8,772.2],[983.8,770.5]],
  [[852.2,786.2],[843.3,794.2],[850.3,801.3],[852.2,798.9],[857.6,794.6],[852.2,793.3]],
  [[793.5,824],[797,827.7],[806.5,824.5],[805.1,830.5],[799.7,836],[789,839.8],[789,835.1]],
  [[771,857],[774,857],[767,873],[768.5,886],[774,905],[774,914],[770,914],[764.7,890],[764.7,883.5],[768,873]],
  [[1225.5,821],[1231,822],[1228,833],[1226,832]],
  [[1247.8,853.5],[1250,861.2],[1250,870],[1246.2,863]],
  [[1352.7,514.3],[1366.8,504.6],[1380.8,510.4],[1383.7,514.3],[1372.4,509.5],[1364,513.4]],
  [[1361.2,535.9],[1372.4,534.9],[1380.8,524.1],[1385,528],[1375.2,539.8],[1366.8,546.6],[1361.7,545.7]],
  [[1337.2,471.8],[1352.6,478.2],[1352.6,481],[1340,473.5]],
  [[354.6,852],[375.6,875.6],[375,877],[354,853.5]],
  [[353.5,867.8],[357.9,864.8],[374.5,870.4],[375.6,889.5],[373.8,880.8],[372.9,872.1],[359,866.2],[354.6,868.6]]
];

// Label layout: map-unit centre, font px, rotation in degrees (same order as stateCodes)
const labelX = [242,200,182.3,255.7,357,494,516,393,365,527,558,709,701,726,747.4,779.5,738,850,878,909.5,911,932.3,956,990,995,1081.8,1083.5,1122.6,1075.1,1104,1160,1220.5,1292.7,1279.6,1250.9,1186.8,1270,1287.6,1336.8,1375.7,1361.5,1319.2,1314.1,1391,1425.3,1471.1,1422.3,1414.3,1440.3,239,546.4];
const labelY = [106,205,503.6,372.6,259,158,296,423,585,606,454,171,265,374,481.8,590,724,171,351,484.2,602.9,761.1,250,423,660,659,561.7,495.4,419.4,306,384,450.4,473,539.2,605,662,840.7,354.1,276.5,349.7,414.3,397,420.4,195.2,234.1,142.2,267.1,295.7,287.6,804.5,931.9];
const labelSize = [126,142,128,155,136,228,142,118,135,160,200,137,155,137,150,127,258,100,127,116,100,82,102,95,80,82,104,70,64,91,104,63,85,119,88,101,74,112,91,45,30,38,24,35,41,65,47,41,20,103,90];
const labelAngle = [0,0,0,0,0,0,0,0,0,0,0,0,0,0,0,0,0,0,0,0,0,0,0,0,0,0,0,0,0,0,0,0,0,0,0,0,0,0,0,37,0,0,0,0,0,0,-7,-7,80,0,0];

function binIndex(value) {
	return binFloors.findIndex((floor) => value >= floor);
}

function ringPoints(ring) {
	// repeat the first point so the line closes
	return ring.concat([ring[0]]).map((p) => ({ x: p[0], y: p[1] }));
}

const datasets = [];
stateCodes.forEach((code, i) => {
	const color = binColors[binIndex(parseFloat(valueLabels[i]))];
	stateOutlines[i].forEach((ring) => {
		datasets.push({ label: code, data: ringPoints(ring), backgroundColor: color, borderColor: "#2a2a2a", borderWidth: 2.6, showLine: true, pointRadius: 0, tension: 0 });
	});
});
waterRings.forEach((ring) => {
	datasets.push({ label: "water", data: ringPoints(ring), backgroundColor: "#000", borderColor: "#000", borderWidth: 1, showLine: true, pointRadius: 0, tension: 0 });
});

// Fill each ring from the points Chart.js placed
const fillPlugin = {
	id: "ringFill",
	beforeDatasetsDraw(chart) {
		const ctx = chart.ctx;
		chart.data.datasets.forEach((ds, i) => {
			const pts = chart.getDatasetMeta(i).data;
			ctx.beginPath();
			pts.forEach((p, k) => (k ? ctx.lineTo(p.x, p.y) : ctx.moveTo(p.x, p.y)));
			ctx.closePath();
			ctx.fillStyle = ds.backgroundColor;
			ctx.fill();
		});
	},
};

// State values, legend and credit
const textPlugin = {
	id: "mapText",
	afterDatasetsDraw(chart) {
		const ctx = chart.ctx;
		const sx = chart.scales.x;
		const sy = chart.scales.y;
		ctx.save();
		ctx.textAlign = "center";
		ctx.textBaseline = "alphabetic";
		valueLabels.forEach((text, i) => {
			const size = labelSize[i];
			ctx.save();
			ctx.translate(sx.getPixelForValue(labelX[i]), sy.getPixelForValue(labelY[i]));
			ctx.rotate((labelAngle[i] * Math.PI) / 180);
			ctx.font = size + 'px "Open Sans"';
			ctx.fillStyle = stateCodes[i] === "HI" ? "#fff" : "#000";
			ctx.fillText(text, 0, size * 0.357);
			ctx.restore();
		});

		ctx.textAlign = "left";
		ctx.fillStyle = "#fff";
		ctx.font = 'bold 35px "Open Sans"';
		ctx.letterSpacing = "0.9px";
		ctx.fillText(legendTitle, sx.getPixelForValue(1359.3), sy.getPixelForValue(611));
		const swatchTops = [625, 646.4, 668, 705.6, 727, 748.7, 770, 791.7];
		const textBase = [[636], [657.3], [679, 695], [716.5], [738], [759.7], [781.3], [803]];
		ctx.letterSpacing = "0.7px";
		legendLabels.forEach((lines, i) => {
			ctx.fillStyle = binColors[i];
			const x0 = sx.getPixelForValue(1354.6);
			const y0 = sy.getPixelForValue(swatchTops[i]);
			ctx.fillRect(x0, y0, 38.5, 38);
			ctx.fillStyle = "#fff";
			ctx.font = '33px "Open Sans"';
			lines.forEach((line, k) => ctx.fillText(line, sx.getPixelForValue(1379.9), sy.getPixelForValue(textBase[i][k])));
		});

		ctx.font = 'bold 21px "Open Sans"';
		ctx.letterSpacing = "0.8px";
		ctx.fillText(creditText, sx.getPixelForValue(1043), sy.getPixelForValue(965));
		ctx.restore();
	},
};

new Chart(document.getElementById("myChart"), {
	type: "scatter",
	data: { datasets: datasets },
	options: {
		responsive: false,
		animation: false,
		devicePixelRatio: 1,
		layout: { padding: 0 },
		events: [],
		scales: {
			x: { type: "linear", min: 0, max: 1568, display: false },
			y: { type: "linear", min: 0, max: 971.2, reverse: true, display: false },
		},
		plugins: { legend: { display: false }, tooltip: { enabled: false } },
	},
	plugins: [fillPlugin, textPlugin],
});
</script>
</body>
</html>
